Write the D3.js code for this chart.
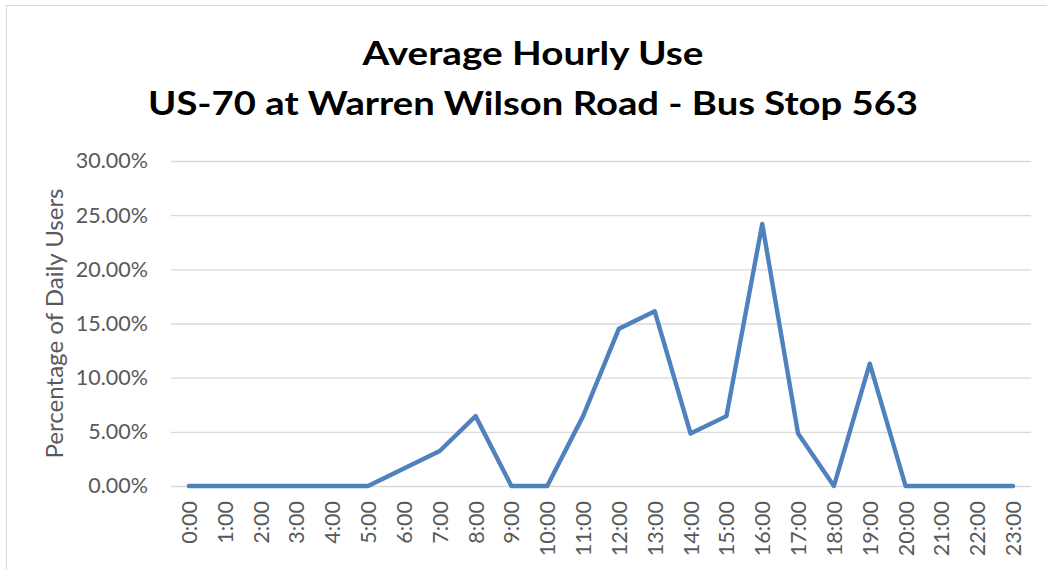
<!DOCTYPE html>
<html>
<head>
<meta charset="utf-8">
<script src="https://cdn.jsdelivr.net/npm/d3@7"></script>
<style>
  html, body { margin: 0; padding: 0; background: #fff; }
  svg { display: block; }
</style>
</head>
<body>
<svg id="chart" width="1047" height="570"></svg>
<script>
const hours = ["0:00","1:00","2:00","3:00","4:00","5:00","6:00","7:00","8:00","9:00","10:00","11:00",
               "12:00","13:00","14:00","15:00","16:00","17:00","18:00","19:00","20:00","21:00","22:00","23:00"];
const usage = [0, 0, 0, 0, 0, 0, 0.0161, 0.0323, 0.0645, 0, 0, 0.0645,
               0.1452, 0.1613, 0.0484, 0.0645, 0.2419, 0.0484, 0, 0.1129, 0, 0, 0, 0];
const yTicks = [0, 0.05, 0.10, 0.15, 0.20, 0.25, 0.30];
const titleLines = ["Average Hourly Use", "US-70 at Warren Wilson Road - Bus Stop 563"];
const titleWidths = [341, 770];
const yTitle = "Percentage of Daily Users";

const svg = d3.select("#chart");
const W = 1047, H = 570;
const font = "Lato, 'Open Sans', sans-serif";

// border
svg.append("rect").attr("x", 6.5).attr("y", 5.5).attr("width", W + 10).attr("height", H + 10)
  .attr("fill", "#fff").attr("stroke", "#d9d9d9").attr("stroke-width", 1);

const plot = { left: 171, right: 1031, top: 161, bottom: 486 };

const x = d3.scalePoint().domain(hours).range([plot.left, plot.right]).padding(0.5);
const y = d3.scaleLinear().domain([0, 0.30]).range([plot.bottom, plot.top]);

// title
svg.append("g").selectAll("text").data(titleLines).join("text")
  .attr("x", 533).attr("y", (d, i) => 65 + i * 50)
  .attr("text-anchor", "middle")
  .attr("font-family", font).attr("font-weight", "bold").attr("font-size", 33)
  .attr("textLength", (d, i) => titleWidths[i]).attr("lengthAdjust", "spacingAndGlyphs")
  .attr("fill", "#000").text(d => d);

// y grid + axis
const yAxis = d3.axisLeft(y).tickValues(yTicks).tickFormat(d3.format(".2%")).tickSize(-(plot.right - plot.left)).tickPadding(23);
const gy = svg.append("g").attr("transform", `translate(${plot.left},0)`).call(yAxis);
gy.select(".domain").remove();
gy.selectAll(".tick line").attr("stroke", "#d9d9d9").attr("stroke-width", 1.3);
gy.selectAll(".tick text").attr("font-family", font).attr("font-size", 21.5).attr("fill", "#595959");

// x axis labels
const xAxis = d3.axisBottom(x).tickSize(0).tickPadding(0);
const gx = svg.append("g").attr("transform", `translate(0,${plot.bottom})`).call(xAxis);
gx.select(".domain").remove();
gx.selectAll(".tick text")
  .attr("font-family", font).attr("font-size", 21.5).attr("fill", "#595959")
  .attr("text-anchor", "end")
  .attr("dy", null).attr("y", 0)
  .attr("transform", "translate(7.5,15) rotate(-90)");

// y title
svg.append("text")
  .attr("transform", `translate(63,${(plot.top + plot.bottom) / 2}) rotate(-90)`)
  .attr("text-anchor", "middle")
  .attr("font-family", font).attr("font-size", 22.5).attr("fill", "#595959")
  .attr("textLength", 270).attr("lengthAdjust", "spacingAndGlyphs")
  .text(yTitle);

// line
const line = d3.line().x((d, i) => x(hours[i])).y(d => y(d));
svg.append("path").datum(usage)
  .attr("d", line)
  .attr("fill", "none").attr("stroke", "#4f81bd").attr("stroke-width", 4.4)
  .attr("stroke-linejoin", "round").attr("stroke-linecap", "round");
</script>
</body>
</html>
